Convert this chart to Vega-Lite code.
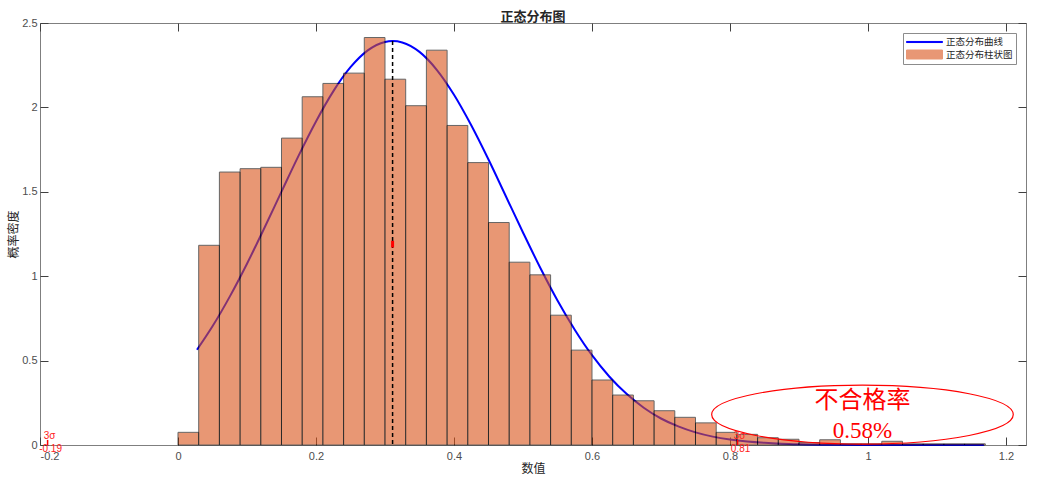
{
  "$schema": "https://vega.github.io/schema/vega-lite/v6.json",
  "width": 986,
  "height": 422,
  "autosize": {"type": "none"},
  "padding": {"left": 40, "top": 23, "right": 13, "bottom": 35},
  "title": {
    "text": "正态分布图",
    "font": "Noto Sans CJK SC",
    "fontSize": 13,
    "fontWeight": "bold",
    "color": "#262626",
    "anchor": "middle",
    "offset": -7
  },
  "datasets": {
    "bins": [
      {"lo": 0.00, "hi": 0.03, "density": 0.075},
      {"lo": 0.03, "hi": 0.06, "density": 1.183},
      {"lo": 0.06, "hi": 0.09, "density": 1.617},
      {"lo": 0.09, "hi": 0.12, "density": 1.637},
      {"lo": 0.12, "hi": 0.15, "density": 1.645},
      {"lo": 0.15, "hi": 0.18, "density": 1.818},
      {"lo": 0.18, "hi": 0.21, "density": 2.063},
      {"lo": 0.21, "hi": 0.24, "density": 2.142},
      {"lo": 0.24, "hi": 0.27, "density": 2.203},
      {"lo": 0.27, "hi": 0.30, "density": 2.414},
      {"lo": 0.30, "hi": 0.33, "density": 2.167},
      {"lo": 0.33, "hi": 0.36, "density": 2.010},
      {"lo": 0.36, "hi": 0.39, "density": 2.339},
      {"lo": 0.39, "hi": 0.42, "density": 1.893},
      {"lo": 0.42, "hi": 0.45, "density": 1.673},
      {"lo": 0.45, "hi": 0.48, "density": 1.318},
      {"lo": 0.48, "hi": 0.51, "density": 1.083},
      {"lo": 0.51, "hi": 0.54, "density": 1.008},
      {"lo": 0.54, "hi": 0.57, "density": 0.769},
      {"lo": 0.57, "hi": 0.60, "density": 0.562},
      {"lo": 0.60, "hi": 0.63, "density": 0.385},
      {"lo": 0.63, "hi": 0.66, "density": 0.296},
      {"lo": 0.66, "hi": 0.69, "density": 0.262},
      {"lo": 0.69, "hi": 0.72, "density": 0.203},
      {"lo": 0.72, "hi": 0.75, "density": 0.164},
      {"lo": 0.75, "hi": 0.78, "density": 0.131},
      {"lo": 0.78, "hi": 0.81, "density": 0.075},
      {"lo": 0.81, "hi": 0.84, "density": 0.063},
      {"lo": 0.84, "hi": 0.87, "density": 0.043},
      {"lo": 0.87, "hi": 0.90, "density": 0.034},
      {"lo": 0.90, "hi": 0.93, "density": 0.014},
      {"lo": 0.93, "hi": 0.96, "density": 0.031},
      {"lo": 0.96, "hi": 0.99, "density": 0.007},
      {"lo": 0.99, "hi": 1.02, "density": 0.007},
      {"lo": 1.02, "hi": 1.05, "density": 0.022},
      {"lo": 1.05, "hi": 1.08, "density": 0.007},
      {"lo": 1.08, "hi": 1.11, "density": 0.007},
      {"lo": 1.11, "hi": 1.14, "density": 0.007},
      {"lo": 1.14, "hi": 1.17, "density": 0.007}
    ],
    "curve": [
      {"x": 0.0275, "pdf": 0.564},
      {"x": 0.05, "pdf": 0.703},
      {"x": 0.075, "pdf": 0.879},
      {"x": 0.1, "pdf": 1.074},
      {"x": 0.125, "pdf": 1.284},
      {"x": 0.15, "pdf": 1.501},
      {"x": 0.175, "pdf": 1.716},
      {"x": 0.2, "pdf": 1.917},
      {"x": 0.225, "pdf": 2.095},
      {"x": 0.25, "pdf": 2.238},
      {"x": 0.275, "pdf": 2.338},
      {"x": 0.3, "pdf": 2.388},
      {"x": 0.311, "pdf": 2.393},
      {"x": 0.325, "pdf": 2.385},
      {"x": 0.35, "pdf": 2.329},
      {"x": 0.375, "pdf": 2.223},
      {"x": 0.4, "pdf": 2.075},
      {"x": 0.425, "pdf": 1.894},
      {"x": 0.45, "pdf": 1.691},
      {"x": 0.475, "pdf": 1.475},
      {"x": 0.5, "pdf": 1.259},
      {"x": 0.525, "pdf": 1.05},
      {"x": 0.55, "pdf": 0.856},
      {"x": 0.575, "pdf": 0.683},
      {"x": 0.6, "pdf": 0.532},
      {"x": 0.625, "pdf": 0.406},
      {"x": 0.65, "pdf": 0.303},
      {"x": 0.675, "pdf": 0.221},
      {"x": 0.7, "pdf": 0.157},
      {"x": 0.725, "pdf": 0.11},
      {"x": 0.75, "pdf": 0.0747},
      {"x": 0.775, "pdf": 0.0497},
      {"x": 0.8, "pdf": 0.0324},
      {"x": 0.825, "pdf": 0.0206},
      {"x": 0.85, "pdf": 0.0129},
      {"x": 0.875, "pdf": 0.0078},
      {"x": 0.9, "pdf": 0.0047},
      {"x": 0.95, "pdf": 0.0015},
      {"x": 1.0, "pdf": 0.0005},
      {"x": 1.05, "pdf": 0.0001},
      {"x": 1.1, "pdf": 0.0},
      {"x": 1.168, "pdf": 0.0}
    ],
    "mean": [{"mu": 0.311, "top": 2.393}],
    "sigma": [
      {"x": -0.189, "label": "-0.19"},
      {"x": 0.811, "label": "0.81"}
    ],
    "note": [{"x": 0.992, "y": 0.18}]
  },
  "layer": [
    {
      "data": {"name": "curve"},
      "mark": {"type": "line", "strokeWidth": 2, "interpolate": "monotone"},
      "encoding": {
        "x": {"field": "x", "type": "quantitative", "axis": null},
        "y": {"field": "pdf", "type": "quantitative", "axis": null},
        "color": {
          "datum": "正态分布曲线",
          "type": "nominal",
          "scale": {
            "domain": ["正态分布曲线", "正态分布柱状图"],
            "range": ["#0000ff", "#D95319"]
          },
          "legend": {
            "title": null,
            "orient": "top-right",
            "offset": 10,
            "padding": 3,
            "strokeColor": "#8c8c8c",
            "fillColor": "white",
            "labelFont": "Noto Sans CJK SC",
            "labelFontSize": 9.5,
            "labelColor": "#262626",
            "labelOffset": 3,
            "labelExpr": "datum.label + '\u00a0\u00a0\u00a0\u00a0\u00a0'",
            "symbolSize": 1296,
            "symbolStrokeWidth": 1,
            "symbolOffset": 0,
            "clipHeight": 12,
            "rowPadding": 0.5,
            "encode": {
              "symbols": {
                "update": {
                  "shape": {"signal": "datum.value === '正态分布曲线' ? 'M-1,-0.03L1,-0.03L1,0.03L-1,0.03Z' : 'M-1,-0.25L1,-0.25L1,0.25L-1,0.25Z'"},
                  "size": {"value": 1296},
                  "strokeWidth": {"value": 1},
                  "fill": {"signal": "datum.value === '正态分布曲线' ? '#0000ff' : '#D95319'"},
                  "stroke": {"signal": "datum.value === '正态分布曲线' ? '#0000ff' : '#000000'"},
                  "opacity": {"signal": "datum.value === '正态分布曲线' ? 1 : 0.6"}
                }
              }
            }
          }
        }
      }
    },
    {
      "data": {"name": "bins"},
      "mark": {"type": "rect", "stroke": "#000000", "strokeWidth": 1, "opacity": 0.6},
      "encoding": {
        "x": {
          "field": "lo",
          "type": "quantitative",
          "scale": {"domain": [-0.2, 1.229], "nice": false, "zero": false},
          "axis": {
            "title": "数值",
            "values": [-0.2, 0, 0.2, 0.4, 0.6, 0.8, 1, 1.2],
            "labelExpr": "toString(datum.value)",
            "labelPadding": 13,
            "titlePadding": 2
          }
        },
        "x2": {"field": "hi"},
        "y": {
          "field": "density",
          "type": "quantitative",
          "scale": {"domain": [0, 2.5], "nice": false},
          "axis": {
            "title": "概率密度",
            "values": [0, 0.5, 1, 1.5, 2, 2.5],
            "labelExpr": "toString(datum.value)",
            "labelPadding": 11,
            "titlePadding": 1
          }
        },
        "y2": {"datum": 0},
        "color": {"datum": "正态分布柱状图", "type": "nominal"}
      }
    },
    {
      "data": {"name": "mean"},
      "mark": {"type": "rule", "color": "#000000", "strokeWidth": 1.5, "strokeDash": [4, 3]},
      "encoding": {
        "x": {
          "field": "mu",
          "type": "quantitative",
          "axis": {"orient": "top", "title": null, "labels": false, "values": [-0.2, 0, 0.2, 0.4, 0.6, 0.8, 1, 1.2]}
        },
        "y": {
          "field": "top",
          "type": "quantitative",
          "axis": {"orient": "right", "title": null, "labels": false, "values": [0, 0.5, 1, 1.5, 2, 2.5]}
        },
        "y2": {"datum": 0}
      }
    },
    {
      "data": {"name": "mean"},
      "mark": {"type": "rule", "color": "#ff0000", "strokeWidth": 3},
      "encoding": {
        "x": {"field": "mu", "type": "quantitative", "axis": null},
        "y": {"datum": 1.17, "type": "quantitative", "axis": null},
        "y2": {"datum": 1.21}
      }
    },
    {
      "data": {"name": "sigma"},
      "mark": {"type": "rule", "color": "#ff0000", "strokeWidth": 1.5},
      "encoding": {
        "x": {"field": "x", "type": "quantitative", "axis": null},
        "y": {"datum": 0, "type": "quantitative", "axis": null},
        "y2": {"datum": 0.03}
      }
    },
    {
      "data": {"name": "sigma"},
      "mark": {"type": "text", "color": "#ff2020", "fontSize": 10, "font": "Liberation Sans", "baseline": "middle", "dx": 2},
      "encoding": {
        "x": {"field": "x", "type": "quantitative", "axis": null},
        "y": {"datum": 0.055, "type": "quantitative", "axis": null},
        "text": {"value": "3σ"}
      }
    },
    {
      "data": {"name": "sigma"},
      "mark": {"type": "text", "color": "#ff2020", "fontSize": 10, "font": "Liberation Sans", "baseline": "middle", "dx": 3},
      "encoding": {
        "x": {"field": "x", "type": "quantitative", "axis": null},
        "y": {"datum": -0.025, "type": "quantitative", "axis": null},
        "text": {"field": "label"}
      }
    },
    {
      "data": {"name": "note"},
      "mark": {
        "type": "point",
        "filled": false,
        "opacity": 1,
        "color": "#ff0000",
        "strokeWidth": 1.2,
        "size": 90966,
        "shape": "M-1,0C-1,-0.108,-0.5523,-0.1956,0,-0.1956C0.5523,-0.1956,1,-0.108,1,0C1,0.108,0.5523,0.1956,0,0.1956C-0.5523,0.1956,-1,0.108,-1,0Z"
      },
      "encoding": {
        "x": {"field": "x", "type": "quantitative", "axis": null},
        "y": {"field": "y", "type": "quantitative", "axis": null}
      }
    },
    {
      "data": {"name": "note"},
      "mark": {"type": "text", "color": "#ff0000", "fontSize": 24, "font": "Liberation Serif, Noto Sans CJK SC", "baseline": "middle"},
      "encoding": {
        "x": {"field": "x", "type": "quantitative", "axis": null},
        "y": {"datum": 0.26, "type": "quantitative", "axis": null},
        "text": {"value": "不合格率"}
      }
    },
    {
      "data": {"name": "note"},
      "mark": {"type": "text", "color": "#ff0000", "fontSize": 23, "font": "Liberation Serif", "baseline": "middle"},
      "encoding": {
        "x": {"field": "x", "type": "quantitative", "axis": null},
        "y": {"datum": 0.083, "type": "quantitative", "axis": null},
        "text": {"value": "0.58%"}
      }
    }
  ],
  "resolve": {"axis": {"x": "independent", "y": "independent"}},
  "config": {
    "view": {"stroke": "#7f7f7f", "strokeWidth": 1},
    "axis": {
      "grid": false,
      "domain": false,
      "tickColor": "#404040",
      "tickSize": -8,
      "tickWidth": 1,
      "labelColor": "#4d4d4d",
      "labelFont": "Liberation Sans",
      "labelFontSize": 11,
      "titleFont": "Noto Sans CJK SC",
      "titleFontSize": 12,
      "titleFontWeight": "normal",
      "titleColor": "#262626"
    }
  }
}
